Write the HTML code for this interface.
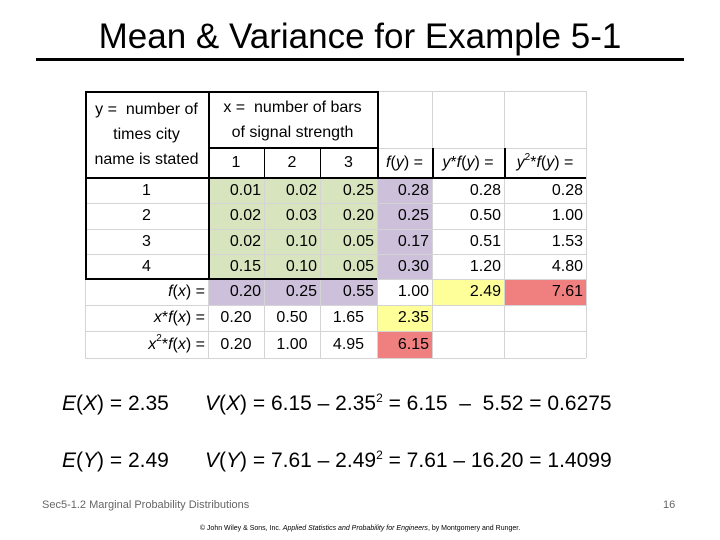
<!DOCTYPE html>
<html><head><meta charset="utf-8"><style>
body{margin:0;background:#fff;}
#slide{position:relative;width:720px;height:540px;overflow:hidden;font-family:"Liberation Sans",sans-serif;color:#000;}
.c{position:absolute;box-sizing:border-box;font-size:16px;display:flex;align-items:center;padding:0 3px;white-space:nowrap;}
.r{justify-content:flex-end;}
.m{justify-content:center;}
.gl{position:absolute;background:#d4d4d4;}
.bl{position:absolute;background:#000;}
.sp{font-size:12px;position:relative;top:-8px;}
.f{position:absolute;font-size:21px;line-height:24px;white-space:nowrap;}
</style></head><body>
<div id="slide">
<div style="position:absolute;left:0;width:720px;top:17px;text-align:center;font-size:35px;">Mean &amp; Variance for Example 5-1</div>
<div style="position:absolute;left:36px;top:58px;width:648px;height:3px;background:#000;"></div>
<div id="tbl"></div>
<div class="f" style="left:62px;top:392px;"><i>E</i>(<i>X</i>) = 2.35</div>
<div class="f" style="left:205px;top:392px;"><i>V</i>(<i>X</i>) = 6.15 – 2.35<span class="sp">2</span> = 6.15 &nbsp;– &nbsp;5.52 = 0.6275</div>
<div class="f" style="left:62px;top:449px;"><i>E</i>(<i>Y</i>) = 2.49</div>
<div class="f" style="left:205px;top:449px;"><i>V</i>(<i>Y</i>) = 7.61 – 2.49<span class="sp">2</span> = 7.61 – 16.20 = 1.4099</div>
<div style="position:absolute;left:42px;top:499px;font-size:11px;color:#666;">Sec5-1.2 Marginal Probability Distributions</div>
<div style="position:absolute;left:663px;top:499px;font-size:11px;color:#666;">16</div>
<div style="position:absolute;left:0;width:720px;top:525px;text-align:center;font-size:7px;">© John Wiley &amp; Sons, Inc. <i>Applied Statistics and Probability for Engineers</i>, by Montgomery and Runger.</div>
</div>
<script>
const xs=[85,208,264,320,377,432,504,586];
const ys=[91,148,178,203,229,254,279,305,331,358];
const G='#d7e4bd',P='#ccc0da',Y='#ffff99',R='#f08080';
const tbl=document.getElementById('tbl');
function cell(c0,c1,r0,r1,html,cls,bg,name){
  const d=document.createElement('div');
  d.className='c '+cls;
  d.style.left=xs[c0]+'px';d.style.width=(xs[c1]-xs[c0])+'px';
  d.style.top=ys[r0]+'px';d.style.height=(ys[r1]-ys[r0])+'px';
  if(bg)d.style.background=bg;
  d.innerHTML=html;
  
  
  tbl.appendChild(d);
}
const rowsY=['1','2','3','4'];
const joint=[['0.01','0.02','0.25'],['0.02','0.03','0.20'],['0.02','0.10','0.05'],['0.15','0.10','0.05']];
const fy=['0.28','0.25','0.17','0.30'];
const yfy=['0.28','0.50','0.51','1.20'];
const y2fy=['0.28','1.00','1.53','4.80'];
const fx=['0.20','0.25','0.55'];
const xfx=['0.20','0.50','1.65'];
const x2fx=['0.20','1.00','4.95'];
function line(cls,l,t,w,h,name){
  const d=document.createElement('div');d.className=cls;
  d.style.left=l+'px';d.style.top=t+'px';d.style.width=w+'px';d.style.height=h+'px';
  
  
  tbl.appendChild(d);
}
for(let i=0;i<4;i++){
  cell(0,1,2+i,3+i,rowsY[i],'m',null,'y-value-label');
  for(let j=0;j<3;j++)cell(1+j,2+j,2+i,3+i,joint[i][j],'r',G,'joint-prob-cell');
  cell(4,5,2+i,3+i,fy[i],'r',P,'fy-cell');
  cell(5,6,2+i,3+i,yfy[i],'r',null,'yfy-cell');
  cell(6,7,2+i,3+i,y2fy[i],'r',null,'y2fy-cell');
}
cell(0,1,6,7,'<i>f</i>(<i>x</i>) =','r',null,'fx-label');
for(let j=0;j<3;j++)cell(1+j,2+j,6,7,fx[j],'r',P,'fx-cell');
cell(4,5,6,7,'1.00','r',null,'fx-total');
cell(5,6,6,7,'2.49','r',Y,'ey-cell');
cell(6,7,6,7,'7.61','r',R,'ey2-cell');
cell(0,1,7,8,'<i>x</i>*<i>f</i>(<i>x</i>) =','r',null,'xfx-label');
for(let j=0;j<3;j++)cell(1+j,2+j,7,8,xfx[j],'m',null,'xfx-cell');
cell(4,5,7,8,'2.35','r',Y,'ex-cell');
cell(0,1,8,9,'<i>x</i><span style="font-size:10px;position:relative;top:-6px">2</span>*<i>f</i>(<i>x</i>) =','r',null,'x2fx-label');
for(let j=0;j<3;j++)cell(1+j,2+j,8,9,x2fx[j],'m',null,'x2fx-cell');
cell(4,5,8,9,'6.15','r',R,'ex2-cell');
for(let k=2;k<ys.length;k++)line('gl',85,ys[k],501,1,'grid-line');
line('gl',377,91,209,1,'grid-line');
line('gl',377,148,209,1,'grid-line');
for(const x of xs){ if(x===264||x===320) line('gl',x,148,1,210,'grid-line'); else line('gl',x,91,1,267,'grid-line'); }
cell(0,1,0,2,'<div style="text-align:center;line-height:25px;white-space:normal;width:100%;font-size:16px">y = &nbsp;number of times city<br>name is stated</div>','m',null,'y-header');
cell(1,4,0,1,'<div style="text-align:center;line-height:25px;white-space:normal;width:100%;font-size:16px">x = &nbsp;number of bars<br>of signal strength</div>','m',null,'x-header');
for(let j=0;j<3;j++)cell(1+j,2+j,1,2,String(j+1),'m',null,'x-value-label');
cell(4,5,1,2,'<i>f</i>(<i>y</i>) =','m',null,'fy-header');
cell(5,6,1,2,'<i>y</i>*<i>f</i>(<i>y</i>) =','m',null,'yfy-header');
cell(6,7,1,2,'<i>y</i><span style="font-size:10px;position:relative;top:-6px">2</span>*<i>f</i>(<i>y</i>) =','m',null,'y2fy-header');
line('bl',85,91,292,2,'border');
line('bl',85,91,2,188,'border');
line('bl',208,91,2,188,'border');
line('bl',377,91,2,87,'border');
line('bl',208,147,169,2,'border');
line('bl',85,177,501,2,'border');
line('bl',264,148,1,30,'border');
line('bl',320,148,1,30,'border');
line('bl',432,148,2,30,'border');
line('bl',504,148,2,30,'border');
line('bl',85,278,292,2,'border');
</script>
</body></html>
